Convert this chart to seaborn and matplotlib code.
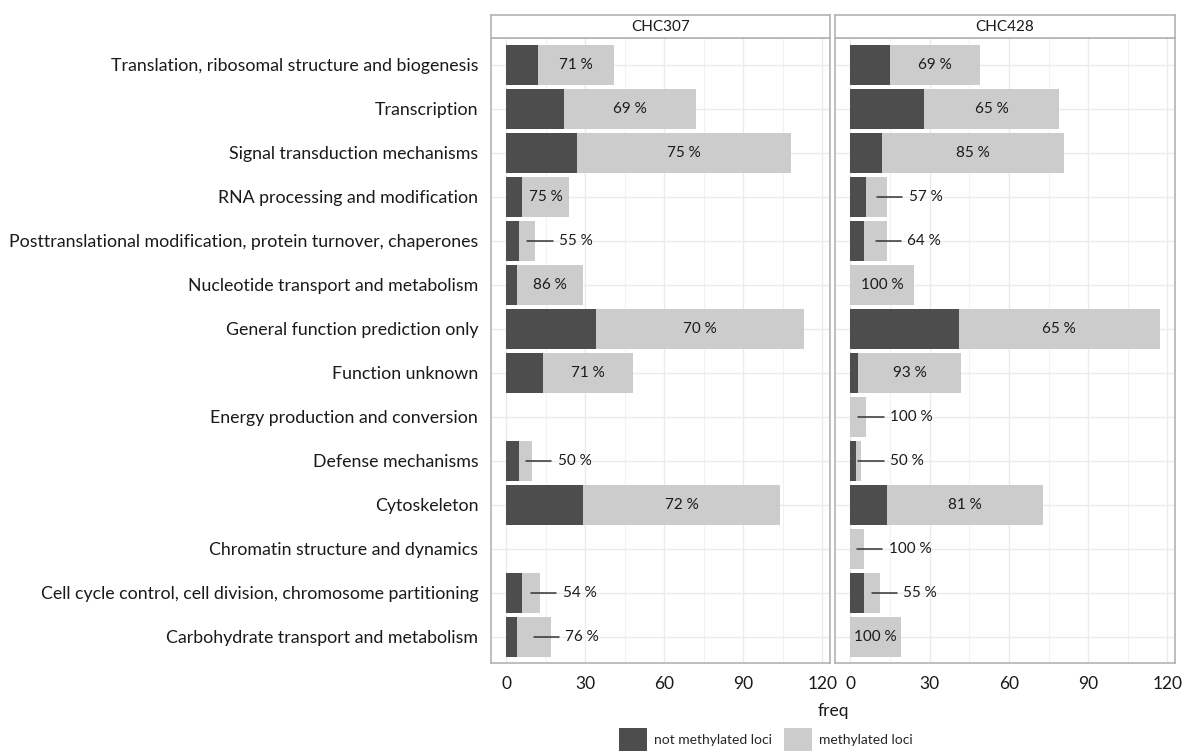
import matplotlib
matplotlib.use("Agg")
import matplotlib.pyplot as plt
from matplotlib.patches import Patch
from matplotlib.ticker import MultipleLocator
import seaborn as sns
import pandas as pd

# COG functional categories (top to bottom)
categories = [
    "Translation, ribosomal structure and biogenesis",
    "Transcription",
    "Signal transduction mechanisms",
    "RNA processing and modification",
    "Posttranslational modification, protein turnover, chaperones",
    "Nucleotide transport and metabolism",
    "General function prediction only",
    "Function unknown",
    "Energy production and conversion",
    "Defense mechanisms",
    "Cytoskeleton",
    "Chromatin structure and dynamics",
    "Cell cycle control, cell division, chromosome partitioning",
    "Carbohydrate transport and metabolism",
]
genotypes = ["CHC307", "CHC428"]

# locus counts per category
chc307_not_methylated = [12, 22, 27, 6, 5, 4, 34, 14, 0, 5, 29, 0, 6, 4]
chc307_methylated = [29, 50, 81, 18, 6, 25, 79, 34, 0, 5, 75, 0, 7, 13]
chc428_not_methylated = [15, 28, 12, 6, 5, 0, 41, 3, 0, 2, 14, 0, 5, 0]
chc428_methylated = [34, 51, 69, 8, 9, 24, 76, 39, 6, 2, 59, 5, 6, 19]

x_ticks = [0, 30, 60, 90, 120]

DARK = "#4d4d4d"
LIGHT = "#cccccc"
BORDER = "#b3b3b3"

sns.set_theme(style="white")
plt.rcParams["font.family"] = ["Lato", "DejaVu Sans"]

rows = []
for g, nm, me in [("CHC307", chc307_not_methylated, chc307_methylated),
                  ("CHC428", chc428_not_methylated, chc428_methylated)]:
    for c, a, b in zip(categories, nm, me):
        rows.append({"genotype": g, "category": c, "not_methylated": a,
                     "methylated": b, "total": a + b})
df = pd.DataFrame(rows)

W, H = 1184, 751
fig = plt.figure(figsize=(W / 100, H / 100), dpi=100)

panels = [(490.7, 830.0), (835.0, 1175.0)]
top_px, strip_top_px, bottom_px = 38.3, 15.0, 663.3

for i, (g, (x0, x1)) in enumerate(zip(genotypes, panels)):
    ax = fig.add_axes([x0 / W, 1 - bottom_px / H, (x1 - x0) / W, (bottom_px - top_px) / H])
    sub = df[df["genotype"] == g]

    sns.barplot(data=sub, y="category", x="total", order=categories, orient="h",
                color=LIGHT, width=0.9, ax=ax, zorder=2, saturation=1, errorbar=None,
                linewidth=0, edgecolor="none")
    sns.barplot(data=sub, y="category", x="not_methylated", order=categories, orient="h",
                color=DARK, width=0.9, ax=ax, zorder=3, saturation=1, errorbar=None,
                linewidth=0, edgecolor="none")

    ax.set_xlim(-5.85, 122.85)
    ax.set_ylim(len(categories) - 0.4, -0.6)
    ax.xaxis.set_major_locator(MultipleLocator(30))
    ax.xaxis.set_minor_locator(MultipleLocator(15))
    ax.set_xticks(x_ticks)
    ax.grid(True, which="major", color="#ebebeb", linewidth=1.0, zorder=0)
    ax.grid(True, which="minor", axis="x", color="#f2f2f2", linewidth=0.8, zorder=0)
    ax.set_axisbelow(True)
    for s in ax.spines.values():
        s.set_color(BORDER)
        s.set_linewidth(1.2)
    ax.set_xlabel("")
    ax.set_ylabel("")
    ax.tick_params(axis="x", which="major", length=5, width=1, color="#333333",
                   labelsize=12.5, labelcolor="#1a1a1a", pad=4)
    ax.tick_params(axis="x", which="minor", length=0)
    if i == 0:
        ax.tick_params(axis="y", length=5, width=1, color="#333333", labelsize=12.8,
                       labelcolor="#1a1a1a", pad=4)
    else:
        ax.tick_params(axis="y", length=0, labelleft=False)

    # percentage of methylated loci for each category
    for j, r in enumerate(sub.itertuples()):
        if r.total == 0:
            continue
        pct = round(100 * r.methylated / r.total)
        label = f"{pct} %"
        if r.methylated >= 15:
            ax.text((r.not_methylated + r.total) / 2, j, label, ha="center", va="center",
                    fontsize=11, color="#1a1a1a", zorder=5)
        else:
            start = (r.not_methylated + r.total) / 2
            ax.plot([start, start + 9.6], [j, j], color="#333333", linewidth=1.1, zorder=5)
            ax.text(start + 12.0, j, label, ha="left", va="center",
                    fontsize=11, color="#1a1a1a", zorder=5)

    # facet strip
    sax = fig.add_axes([x0 / W, 1 - top_px / H, (x1 - x0) / W, (top_px - strip_top_px) / H])
    sax.set_xticks([])
    sax.set_yticks([])
    sax.set_facecolor("white")
    for s in sax.spines.values():
        s.set_color(BORDER)
        s.set_linewidth(1.2)
    sax.text(0.5, 0.5, g, ha="center", va="center", fontsize=11, color="#1a1a1a",
             transform=sax.transAxes)

fig.text(833 / W, 1 - 711 / H, "freq", ha="center", va="center", fontsize=12.5, color="#1a1a1a")

handles = [Patch(facecolor=DARK, edgecolor="none", label="not methylated loci"),
           Patch(facecolor=LIGHT, edgecolor="none", label="methylated loci")]
fig.legend(handles=handles, loc="center", bbox_to_anchor=(766 / W, 1 - 740 / H),
           ncol=2, frameon=False, fontsize=10, handlelength=2.0, handleheight=2.2,
           handletextpad=0.5, columnspacing=0.9)

fig.savefig("out.png", dpi=100)
